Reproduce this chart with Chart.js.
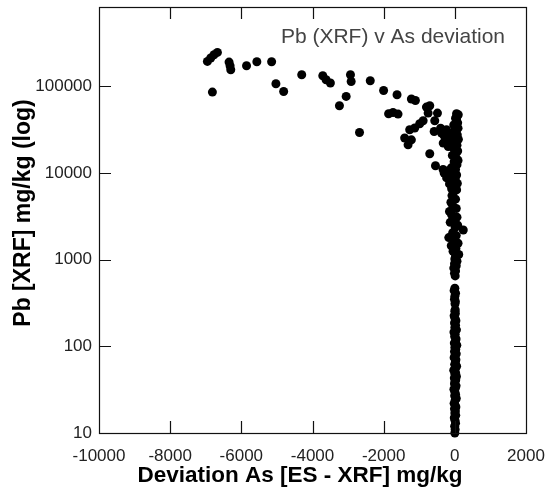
<!DOCTYPE html>
<html>
<head>
<meta charset="utf-8">
<script src="https://cdn.jsdelivr.net/npm/chart.js@4.4.1/dist/chart.umd.min.js"></script>
<style>
  html, body { margin: 0; padding: 0; background: #fff; }
</style>
</head>
<body>
<canvas id="chart" width="545" height="495"></canvas>
<script>
// --- Data ---
const chartTitle = 'Pb (XRF) v As deviation';
const xTitle = 'Deviation As [ES - XRF] mg/kg';
const yTitle = 'Pb [XRF] mg/kg (log)';

const xTickValues = [-10000, -8000, -6000, -4000, -2000, 0, 2000];
const xTickLabels = ['-10000', '-8000', '-6000', '-4000', '-2000', '0', '2000'];
const yTickValues = [10, 100, 1000, 10000, 100000];
const yTickLabels = ['10', '100', '1000', '10000', '100000'];

// scattered samples with large deviations
const spreadDev = [-6954, -6861, -6768, -6672, -6813, -6345, -6317, -6297, -5854, -5564,
  -5149, -5028, -4811, -4303, -3711, -3618, -3497, -3243, -3054, -2933,
  -2913, -2679, -2377, -2002, -1624, -1221, -1108, -1861, -1737, -1596,
  -798, -705, -750, -488, -564, -581, -891, -987, -1128, -1269,
  -1410, -1314, -1221, -705, -544, -375, -234, -327, -186, -93,
  0, 48, 96, 48, -400, -300, -250, -150, -300, -200, -330, -150];
const spreadPb = [194500, 213000, 232000, 247000, 86100, 191000, 173500, 156000, 173500, 193000,
  193000, 107500, 87500, 136500, 133000, 119500, 109500, 59900, 76800, 136500,
  114000, 29400, 116300, 89900, 80200, 71600, 68900, 48400, 50100, 48000,
  57800, 59800, 49300, 49300, 40200, 30200, 40200, 37100, 33100, 31600,
  25400, 21200, 24200, 16700, 12150, 29000, 31600, 22200, 20300, 26500,
  34500, 41200, 47100, 48400, 33000, 27000, 24500, 28000, 10000, 9200, 11000, 7500];

// column of samples close to zero deviation, high Pb
const highDev = [50, -90, -10, 30, -40, 70, -120, 10, -230, -60,
  50, -150, -280, -200, 20, -100, 60, -20, 90, 40,
  -70, 0, 80, -40, 60, -150, 30, -260, 100, -120,
  -20, -200, 70, -60, 10, 90, -30, 80, 20, 60];
const highPb = [6400, 6600, 6700, 6900, 7200, 7600, 8000, 8500, 8800, 9000,
  9500, 9800, 10000, 10500, 11000, 11500, 12500, 13500, 14000, 15000,
  16000, 17000, 18000, 19500, 21000, 22500, 23000, 24000, 24500, 25000,
  26000, 27000, 27500, 29000, 31000, 33000, 36000, 38000, 43000, 45000];

// middle Pb
const midDev = [-30, 40, -10, 60, 0, 20, 110, -50, 30, -100,
  90, -20, -170, 40, -60, 237, 10, 80, -130, -30,
  60, -90, -150, 40, -60, -110, 20, -80, -40,
  5, 15, -10, 0, 20, -20, 0, 10, -10, 20];
const midPb = [800, 850, 900, 960, 1020, 1100, 1150, 1250, 1350, 1450,
  1550, 1650, 1800, 1900, 2050, 2200, 2350, 2500, 2700, 2900,
  3100, 3300, 3600, 3900, 4200, 4600, 5000, 5500, 6000,
  310, 330, 350, 380, 410, 440, 470, 650, 700, 740];

// low Pb, deviation about zero
const lowDev = [0, 10, -5, 20, 5, -15, 25, 0, 15, -10,
  30, 5, -20, 10, 40, -5, 20, 0, -25, 15,
  35, -10, 5, 25, -15, 45, 0, 20, -30, 10,
  50, -5, 15, 30, -20, 5, 40, -10, 25, 0,
  55, -15, 20, 35, -5, 10, -25, 45, 0, 20,
  -10, 30, 5, -20, 15, 0, 10];
const lowPb = [10, 11, 12, 13, 14, 15, 16, 17, 18, 19,
  20, 21, 22, 24, 25, 27, 28, 30, 32, 33,
  35, 37, 39, 41, 43, 45, 48, 50, 53, 56,
  59, 62, 66, 70, 74, 78, 82, 87, 92, 97,
  103, 109, 115, 122, 130, 138, 146, 155, 165, 175,
  186, 198, 210, 225, 240, 255, 265];

function toPoints(devs, pbs) {
  return devs.map((d, i) => ({ x: d, y: pbs[i] }));
}
const points = [
  ...toPoints(spreadDev, spreadPb),
  ...toPoints(highDev, highPb),
  ...toPoints(midDev, midPb),
  ...toPoints(lowDev, lowPb)
];

const FONT = '"Liberation Sans", Arial, sans-serif';

// box frame, inward ticks on all four sides, inset title and axis titles
const frameTicks = {
  id: 'frameTicks',
  afterDraw(chart) {
    const { ctx, chartArea: a, scales: { x, y } } = chart;
    const tickLen = 12;
    ctx.save();
    ctx.strokeStyle = '#111';
    ctx.lineWidth = 1.2;
    ctx.strokeRect(Math.round(a.left) + 0.5, Math.round(a.top) + 0.5,
      Math.round(a.right - a.left), Math.round(a.bottom - a.top));
    ctx.beginPath();
    yTickValues.forEach(v => {
      const py = Math.round(y.getPixelForValue(v)) + 0.5;
      ctx.moveTo(a.left, py); ctx.lineTo(a.left + tickLen, py);
      ctx.moveTo(a.right, py); ctx.lineTo(a.right - tickLen, py);
    });
    xTickValues.slice(1, -1).forEach(v => {
      const px = Math.round(x.getPixelForValue(v)) + 0.5;
      ctx.moveTo(px, a.bottom); ctx.lineTo(px, a.bottom - tickLen);
      ctx.moveTo(px, a.top); ctx.lineTo(px, a.top + tickLen);
    });
    ctx.stroke();

    ctx.font = '21px ' + FONT;
    ctx.fillStyle = '#444';
    ctx.textAlign = 'right';
    ctx.textBaseline = 'alphabetic';
    ctx.fillText(chartTitle, a.right - 21, a.top + 36);

    // axis titles sit a little off the plot centre in the original
    ctx.fillStyle = '#000';
    ctx.textAlign = 'center';
    ctx.font = 'bold 22.5px ' + FONT;
    ctx.fillText(xTitle, a.left + 201, a.bottom + 49);
    ctx.translate(30, a.top + 206);
    ctx.rotate(-Math.PI / 2);
    ctx.font = 'bold 23px ' + FONT;
    ctx.fillText(yTitle, 0, 0);
    ctx.restore();
  }
};

new Chart(document.getElementById('chart'), {
  type: 'scatter',
  data: {
    datasets: [{
      data: points,
      backgroundColor: '#000',
      borderColor: '#000',
      borderWidth: 0,
      pointRadius: 4.5,
      pointHoverRadius: 4.5,
      clip: false
    }]
  },
  options: {
    responsive: false,
    animation: false,
    events: [],
    layout: { padding: { top: 7, right: 19, left: 0, bottom: 0 } },
    plugins: { legend: { display: false }, tooltip: { enabled: false } },
    scales: {
      x: {
        type: 'linear',
        position: 'bottom',
        min: -10000,
        max: 2000,
        afterBuildTicks: s => { s.ticks = xTickValues.map(v => ({ value: v })); },
        afterFit: s => { s.height = 62; s.paddingLeft = 0; s.paddingRight = 0; },
        grid: { display: false, drawTicks: false },
        border: { display: false },
        ticks: {
          padding: 13, maxRotation: 0, autoSkip: false, color: '#222',
          font: { family: FONT, size: 17 },
          callback: (v, i) => xTickLabels[i]
        }
      },
      y: {
        type: 'logarithmic',
        min: 10,
        max: 826000,
        afterBuildTicks: s => { s.ticks = yTickValues.map(v => ({ value: v })); },
        afterFit: s => { s.width = 99; s.paddingTop = 0; s.paddingBottom = 0; },
        grid: { display: false, drawTicks: false },
        border: { display: false },
        ticks: {
          padding: 7, autoSkip: false, color: '#222',
          font: { family: FONT, size: 17 },
          callback: (v, i) => yTickLabels[i]
        }
      }
    }
  },
  plugins: [frameTicks]
});
</script>
</body>
</html>
